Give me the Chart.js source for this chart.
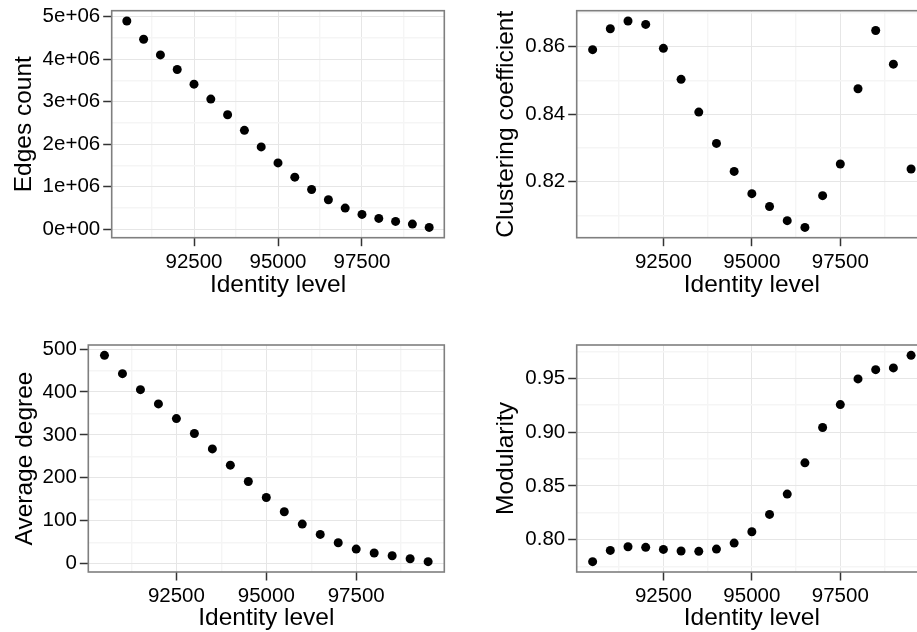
<!DOCTYPE html>
<html>
<head>
<meta charset="utf-8">
<title>Network metrics by identity level</title>
<script src="https://cdn.jsdelivr.net/npm/chart.js@4.4.1/dist/chart.umd.min.js"></script>
<style>
  html, body { margin: 0; padding: 0; background: #fff; }
  body { width: 917px; height: 632px; overflow: hidden; position: relative; }
  canvas { position: absolute; }
</style>
</head>
<body>
<canvas id="edges" width="460" height="316" style="left:0;top:0"></canvas>
<canvas id="clustering" width="480" height="316" style="left:460px;top:0"></canvas>
<canvas id="degree" width="460" height="316" style="left:0;top:316px"></canvas>
<canvas id="modularity" width="480" height="316" style="left:460px;top:316px"></canvas>
<script>
// identity level of each network (x for all four panels)
const identityLevels = [90500, 91000, 91500, 92000, 92500, 93000, 93500, 94000, 94500, 95000,
                        95500, 96000, 96500, 97000, 97500, 98000, 98500, 99000, 99500];

const edgesCount = [4898000, 4468000, 4100000, 3756000, 3412000, 3059000, 2692000, 2324000, 1933000, 1557000,
                    1221000, 931000, 689000, 493000, 344000, 250000, 180000, 117000, 39000];
const clusteringCoef = [0.8591, 0.8653, 0.8676, 0.8666, 0.8595, 0.8503, 0.8406, 0.8313, 0.8230, 0.8164,
                        0.8126, 0.8084, 0.8064, 0.8158, 0.8252, 0.8475, 0.8648, 0.8548, 0.8237];
const averageDegree = [485.3, 442.6, 405.4, 372.1, 338.0, 303.1, 267.4, 229.5, 191.5, 154.3,
                       120.9, 92.2, 68.2, 48.8, 34.1, 24.8, 18.6, 11.6, 4.7];
const modularity = [0.7796, 0.7901, 0.7935, 0.7929, 0.7910, 0.7895, 0.7892, 0.7913, 0.7969, 0.8074,
                    0.8235, 0.8424, 0.8714, 0.9042, 0.9255, 0.9494, 0.9580, 0.9596, 0.9713];

// axis breaks
const xBreaks = [92500, 95000, 97500];
const xBreakLabels = ['92500', '95000', '97500'];
const xMinorBreaks = [91250, 93750, 96250, 98750];

const edgesBreaks = [0, 1000000, 2000000, 3000000, 4000000, 5000000];
const edgesBreakLabels = ['0e+00', '1e+06', '2e+06', '3e+06', '4e+06', '5e+06'];
const edgesMinorBreaks = [500000, 1500000, 2500000, 3500000, 4500000];

const clusteringBreaks = [0.82, 0.84, 0.86];
const clusteringBreakLabels = ['0.82', '0.84', '0.86'];
const clusteringMinorBreaks = [0.81, 0.83, 0.85, 0.87];

const degreeBreaks = [0, 100, 200, 300, 400, 500];
const degreeBreakLabels = ['0', '100', '200', '300', '400', '500'];
const degreeMinorBreaks = [50, 150, 250, 350, 450];

const modularityBreaks = [0.80, 0.85, 0.90, 0.95];
const modularityBreakLabels = ['0.80', '0.85', '0.90', '0.95'];
const modularityMinorBreaks = [0.775, 0.825, 0.875, 0.925, 0.975];

const FONT = "'Liberation Sans', Arial, Helvetica, sans-serif";

// ggplot style 5% expansion of the data range
function expandRange(values) {
    const lo = Math.min(...values);
    const hi = Math.max(...values);
    const pad = (hi - lo) * 0.05;
    return [lo - pad, hi + pad];
}

// theme_bw panel border on top of the points
const panelBorder = {
    id: 'panelBorder',
    afterDatasetsDraw(chart) {
        const { ctx, chartArea: a } = chart;
        ctx.save();
        ctx.strokeStyle = '#7f7f7f';
        ctx.lineWidth = 1.6;
        ctx.strokeRect(a.left, a.top, a.right - a.left, a.bottom - a.top);
        ctx.restore();
    }
};

function axisConfig(range, major, labels, minor, title, titlePadding, fixSize) {
    return {
        type: 'linear',
        min: range[0],
        max: range[1],
        afterBuildTicks: scale => {
            scale.ticks = major.concat(minor).sort((a, b) => a - b).map(v => ({ value: v }));
        },
        afterFit: fixSize,
        border: { display: false },
        grid: {
            color: ctx => major.includes(ctx.tick.value) ? '#e6e6e6' : '#f5f5f5',
            lineWidth: ctx => major.includes(ctx.tick.value) ? 1 : 1.4,
            tickColor: ctx => major.includes(ctx.tick.value) ? '#333333' : 'rgba(0,0,0,0)',
            tickWidth: 1.5,
            tickLength: 8.5
        },
        ticks: {
            autoSkip: false,
            maxRotation: 0,
            minRotation: 0,
            padding: 4,
            color: '#000',
            font: { family: FONT, size: 20.5 },
            callback: value => {
                const i = major.indexOf(value);
                return i >= 0 ? labels[i] : '';
            }
        },
        title: {
            display: true,
            text: title,
            color: '#000',
            font: { family: FONT, size: 24.5 },
            padding: titlePadding
        }
    };
}

function makePanel(id, values, yMajor, yLabels, yMinor, yTitle, layout) {
    const canvas = document.getElementById(id);
    const points = identityLevels.map((x, i) => ({ x, y: values[i] }));

    const xScale = axisConfig(expandRange(identityLevels), xBreaks, xBreakLabels, xMinorBreaks,
        'Identity level', { top: 0, bottom: layout.xTitleBottom },
        scale => { scale.height = layout.xHeight; scale.paddingLeft = 0; scale.paddingRight = 0; });
    xScale.ticks.padding = 4;

    const yScale = axisConfig(expandRange(values), yMajor, yLabels, yMinor,
        yTitle, { top: layout.yTitleLeft, bottom: 0 },
        scale => { scale.width = layout.yWidth; scale.paddingTop = 0; scale.paddingBottom = 0; });
    yScale.ticks.padding = 3;

    return new Chart(canvas, {
        type: 'scatter',
        data: {
            datasets: [{
                data: points,
                pointRadius: 4.5,
                pointHoverRadius: 4.5,
                backgroundColor: '#000',
                borderWidth: 0
            }]
        },
        options: {
            responsive: false,
            animation: false,
            devicePixelRatio: 1,
            layout: { padding: { top: layout.top, right: layout.right, left: 0, bottom: 0 } },
            plugins: { legend: { display: false }, tooltip: { enabled: false } },
            scales: { x: xScale, y: yScale }
        },
        plugins: [panelBorder]
    });
}

makePanel('edges', edgesCount, edgesBreaks, edgesBreakLabels, edgesMinorBreaks, 'Edges count',
    { top: 10.7, right: 15.7, yWidth: 111.7, xHeight: 78.3, yTitleLeft: 9.2, xTitleBottom: 16.4 });

makePanel('clustering', clusteringCoef, clusteringBreaks, clusteringBreakLabels, clusteringMinorBreaks,
    'Clustering coefficient',
    { top: 10.7, right: 13, yWidth: 116.7, xHeight: 78.3, yTitleLeft: 31.4, xTitleBottom: 16.4 });

makePanel('degree', averageDegree, degreeBreaks, degreeBreakLabels, degreeMinorBreaks, 'Average degree',
    { top: 29, right: 15.7, yWidth: 88.3, xHeight: 60, yTitleLeft: 10.4, xTitleBottom: -1.4 });

makePanel('modularity', modularity, modularityBreaks, modularityBreakLabels, modularityMinorBreaks,
    'Modularity',
    { top: 29, right: 13, yWidth: 116.7, xHeight: 60, yTitleLeft: 31.4, xTitleBottom: -1.4 });
</script>
</body>
</html>
